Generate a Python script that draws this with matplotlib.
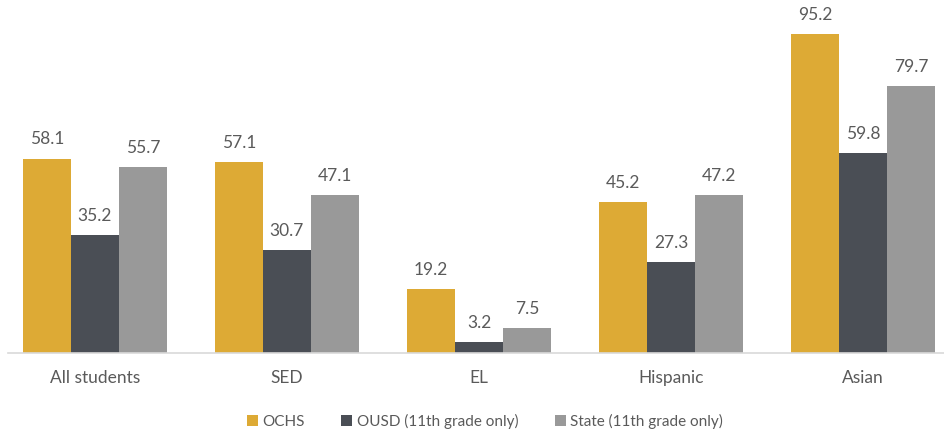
import numpy as np
import matplotlib.pyplot as plt

categories = ["All students", "SED", "EL", "Hispanic", "Asian"]
series_names = ["OCHS", "OUSD (11th grade only)", "State (11th grade only)"]
ochs = [58.1, 57.1, 19.2, 45.2, 95.2]
ousd = [35.2, 30.7, 3.2, 27.3, 59.8]
state = [55.7, 47.1, 7.5, 47.2, 79.7]

colors = ["#DDAA35", "#4A4E55", "#999999"]
text_color = "#5A5A5A"

plt.rcParams['font.family'] = ['Lato', 'DejaVu Sans']

fig = plt.figure(figsize=(9.45, 4.36), dpi=100)
ax = fig.add_axes([8 / 945, 83 / 436, 937 / 945, 353 / 436])

x = np.arange(len(categories))
width = 0.25
for i, (vals, name) in enumerate(zip([ochs, ousd, state], series_names)):
    bars = ax.bar(x + (i - 1) * width, vals, width, color=colors[i], label=name)
    for b, v in zip(bars, vals):
        ax.annotate(f"{v:.1f}", (b.get_x() + b.get_width() / 2, v),
                    xytext=(0, 8), textcoords="offset points",
                    ha="center", va="bottom", fontsize=12.5, color=text_color)

ax.set_xlim(-0.453, 4.427)
ax.set_ylim(0, 105.5)
ax.set_xticks(x)
ax.set_xticklabels(categories, fontsize=12.5, color=text_color)
ax.tick_params(axis="x", length=0, pad=12)
ax.set_yticks([])
for s in ["top", "right", "left"]:
    ax.spines[s].set_visible(False)
ax.spines["bottom"].set_color("#D9D9D9")
ax.spines["bottom"].set_linewidth(1.2)

leg = fig.legend(loc="center", bbox_to_anchor=(485 / 945, 1 - 421 / 436), ncol=3,
                 frameon=False, handlelength=0.7, handleheight=0.7,
                 handletextpad=0.3, columnspacing=2.4, prop={"size": 11})
for t in leg.get_texts():
    t.set_color(text_color)

fig.savefig("out.png", dpi=100)
